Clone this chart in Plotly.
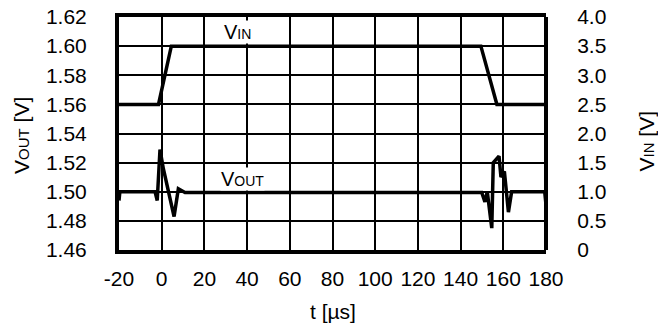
import plotly.graph_objects as go

# VIN step (right axis, V)
vin_t = [-20, -1.5, 4.5, 149.5, 157, 180]
vin_v = [2.5, 2.5, 3.5, 3.5, 2.5, 2.5]

# VOUT response (left axis, V)
vout_t = [-20, -19.6, -3.1, -2.1, -0.8, 0.75, 5.8, 7.8, 10.9,
          149.9, 151.4, 152.5, 154.6, 155.3, 158.0, 158.9, 160.5, 162.4, 163.9, 179.4, 180]
vout_v = [1.494, 1.500, 1.500, 1.494, 1.529, 1.516, 1.483, 1.502, 1.4995,
          1.4995, 1.493, 1.500, 1.475, 1.520, 1.5245, 1.510, 1.514, 1.486, 1.500, 1.500, 1.491]

x_ticks = list(range(-20, 181, 20))
y_ticks = [1.46, 1.48, 1.50, 1.52, 1.54, 1.56, 1.58, 1.60, 1.62]
y2_ticks = [0, 0.5, 1.0, 1.5, 2.0, 2.5, 3.0, 3.5, 4.0]
y2_text = ["0", "0.5", "1.0", "1.5", "2.0", "2.5", "3.0", "3.5", "4.0"]

FONT = "Liberation Sans, Arial, sans-serif"

fig = go.Figure()
fig.add_trace(go.Scatter(x=vout_t, y=vout_v, mode="lines",
                         line=dict(color="black", width=3.5), yaxis="y"))
fig.add_trace(go.Scatter(x=vin_t, y=vin_v, mode="lines",
                         line=dict(color="black", width=3.5), yaxis="y2"))

fig.update_layout(
    width=658, height=329,
    margin=dict(l=119, r=112, t=17, b=79),
    paper_bgcolor="white", plot_bgcolor="white",
    showlegend=False,
    font=dict(family=FONT, size=21, color="black"),
    xaxis=dict(range=[-20, 180], tickvals=x_ticks, ticktext=[str(v) for v in x_ticks],
               showgrid=True, gridcolor="black", gridwidth=2, zeroline=False,
               showline=True, linecolor="black", linewidth=4, mirror=True,
               ticks="", ticklabelstandoff=7, automargin=False, ticklabeloverflow="allow"),
    yaxis=dict(range=[1.46, 1.62], tickvals=y_ticks, ticktext=[f"{v:.2f}" for v in y_ticks],
               showgrid=True, gridcolor="black", gridwidth=2, zeroline=False,
               showline=True, linecolor="black", linewidth=4,
               ticks="", ticklabelstandoff=24, automargin=False, ticklabeloverflow="allow"),
    yaxis2=dict(range=[0, 4], overlaying="y", side="right", anchor="free", position=1.0,
                tickvals=y2_ticks, ticktext=y2_text,
                showgrid=False, zeroline=False,
                showline=True, linecolor="black", linewidth=4,
                ticks="outside", ticklen=25, tickcolor="rgba(0,0,0,0)", automargin=False,
                ticklabeloverflow="allow"),
    annotations=[
        dict(x=35.7, y=1.6097, xref="x", yref="y", showarrow=False,
             text="V<span style='font-size:14px'>IN</span>", bgcolor="white",
             font=dict(size=20), borderpad=0),
        dict(x=37.8, y=1.5087, xref="x", yref="y", showarrow=False,
             text="V<span style='font-size:14px'>OUT</span>", bgcolor="white",
             font=dict(size=20), borderpad=0),
        dict(x=0.5, y=-0.262, xref="paper", yref="paper", showarrow=False,
             text="t [µs]", xanchor="center", yanchor="middle"),
        dict(x=-0.227, y=0.49, xref="paper", yref="paper", showarrow=False,
             text="V<span style='font-size:15px'>OUT</span> [V]", textangle=-90,
             xanchor="center", yanchor="middle"),
        dict(x=1.2365, y=0.47, xref="paper", yref="paper", showarrow=False,
             text="V<span style='font-size:15px'>IN</span> [V]", textangle=-90,
             xanchor="center", yanchor="middle"),
    ],
)

fig.write_html(
    "out.html",
    config={"displayModeBar": False},
    post_script="document.body.style.margin='0';document.body.style.overflow='hidden';",
)
